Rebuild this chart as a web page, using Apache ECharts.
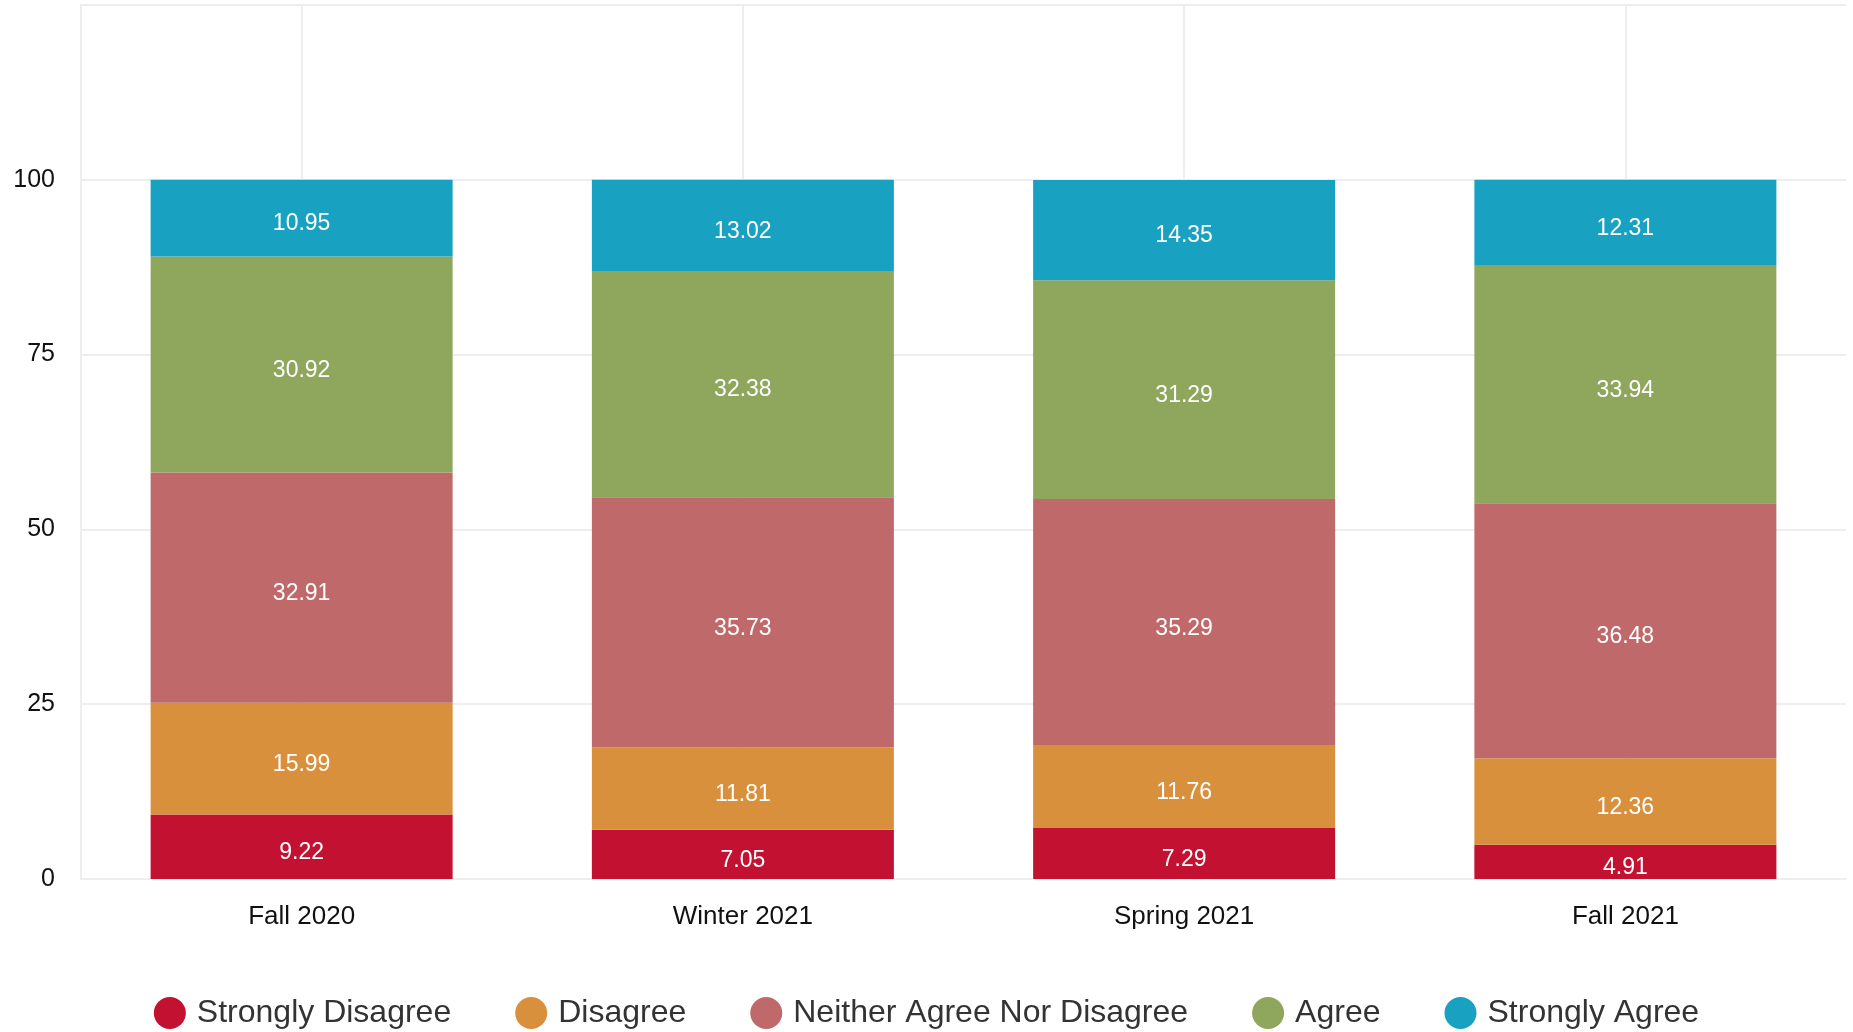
<!DOCTYPE html>
<html>
<head>
<meta charset="utf-8">
<script src="https://cdn.jsdelivr.net/npm/echarts@6/dist/echarts.min.js"></script>
<style>
html,body{margin:0;padding:0;background:#fff;}
#chart{width:1853px;height:1032px;}
</style>
</head>
<body>
<div id="chart"></div>
<script>
const categories = ['Fall 2020', 'Winter 2021', 'Spring 2021', 'Fall 2021'];
const seriesNames = ['Strongly Disagree', 'Disagree', 'Neither Agree Nor Disagree', 'Agree', 'Strongly Agree'];
const stronglyDisagree = [9.22, 7.05, 7.29, 4.91];
const disagree = [15.99, 11.81, 11.76, 12.36];
const neither = [32.91, 35.73, 35.29, 36.48];
const agree = [30.92, 32.38, 31.29, 33.94];
const stronglyAgree = [10.95, 13.02, 14.35, 12.31];
const colors = ['#c21131', '#d9903c', '#c0696a', '#8fa65d', '#19a1c2'];

const font = '"Liberation Sans", Arial, Helvetica, sans-serif';
const values = [stronglyDisagree, disagree, neither, agree, stronglyAgree];

const chart = echarts.init(document.getElementById('chart'));
chart.setOption({
  animation: false,
  color: colors,
  textStyle: { fontFamily: font },
  grid: { left: 81, right: 7, top: 5, bottom: 153, containLabel: false },
  legend: {
    bottom: 3,
    left: 'center',
    icon: 'circle',
    itemWidth: 32,
    itemHeight: 32,
    itemGap: 64,
    padding: 0,
    data: seriesNames,
    textStyle: { fontSize: 32, color: '#333', fontFamily: font, padding: [0, 0, 0, 6] }
  },
  xAxis: {
    type: 'category',
    data: categories,
    axisLine: { show: true, lineStyle: { color: '#eeeeee', width: 2 } },
    axisTick: { show: false, alignWithLabel: true },
    splitLine: { show: true, alignWithLabel: true, lineStyle: { color: '#eeeeee', width: 2 } },
    axisLabel: { fontSize: 26, color: '#111', margin: 25, fontFamily: font }
  },
  yAxis: {
    type: 'value',
    min: 0,
    max: 125,
    interval: 25,
    axisLine: { show: true, lineStyle: { color: '#eeeeee', width: 2 } },
    axisTick: { show: false },
    splitLine: { show: true, lineStyle: { color: '#eeeeee', width: 2 } },
    axisLabel: { fontSize: 25, color: '#111', margin: 26, showMaxLabel: false, fontFamily: font, padding: [6, 0, 0, 0] }
  },
  series: seriesNames.map((name, i) => ({
    name: name,
    type: 'bar',
    stack: 'total',
    barWidth: 302,
    data: values[i],
    itemStyle: { color: colors[i] },
    label: {
      show: true,
      position: 'inside',
      offset: [0, 6],
      color: '#fff',
      fontSize: 23,
      fontFamily: font,
      formatter: (p) => p.value.toFixed(2)
    }
  }))
});
</script>
</body>
</html>
